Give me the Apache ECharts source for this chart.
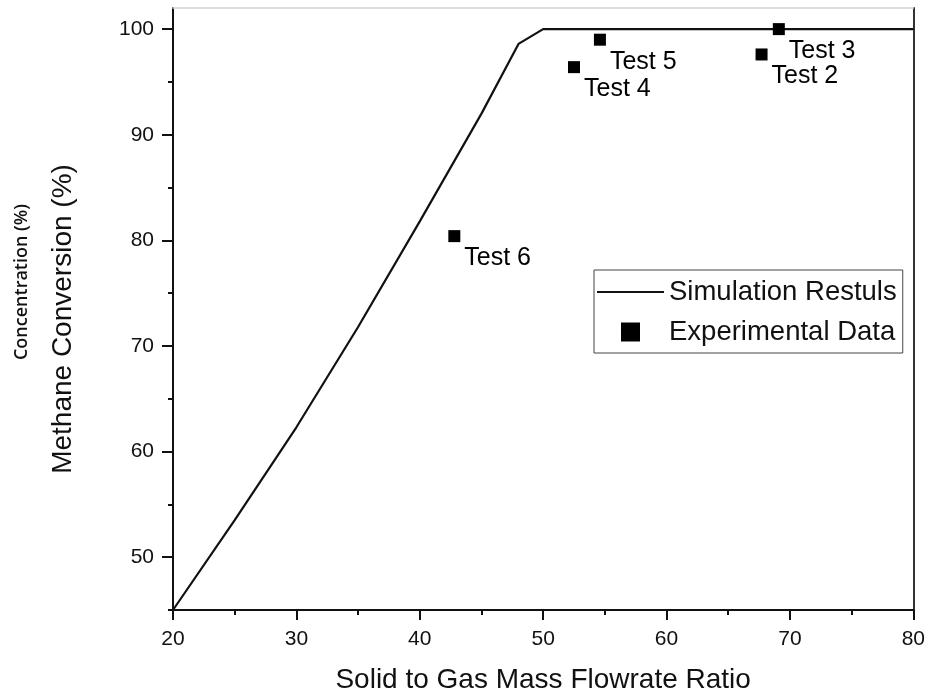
<!DOCTYPE html>
<html>
<head>
<meta charset="utf-8">
<script src="https://cdn.jsdelivr.net/npm/echarts@6/dist/echarts.min.js"></script>
<style>
  html, body { margin: 0; padding: 0; background: #fff; }
  #chart { width: 928px; height: 699px; }
</style>
</head>
<body>
<div id="chart"></div>
<script>
// Simulated methane conversion vs. solid-to-gas mass flowrate ratio
const simX = [20, 25, 30, 35, 40, 45, 48, 50, 80];
const simY = [45, 53.5, 62.3, 71.8, 81.8, 92.0, 98.6, 100, 100];

// Experimental runs
const testNames = ['Test 2', 'Test 3', 'Test 4', 'Test 5', 'Test 6'];
const testX = [67.7, 69.1, 52.5, 54.6, 42.8];
const testY = [97.6, 100.0, 96.4, 99.0, 80.4];

// Axis ticks
const xTicks = [20, 30, 40, 50, 60, 70, 80];
const yTicks = [50, 60, 70, 80, 90, 100];
const yMinorTicks = [45, 55, 65, 75, 85, 95];

const FONT = "'Liberation Sans', Arial, Helvetica, sans-serif";
const INK = '#111';

const chart = echarts.init(document.getElementById('chart'), null, { renderer: 'canvas' });

const xMin = xTicks[0], xMax = xTicks[xTicks.length - 1];
const yMin = 45, yMax = 102;

const hidden = { show: false };

chart.setOption({
  animation: false,
  backgroundColor: '#fff',
  grid: { left: 173, right: 12, top: 8, bottom: 86, containLabel: false },
  xAxis: [
    {
      type: 'value', position: 'bottom', min: xMin, max: xMax, interval: xTicks[1] - xTicks[0],
      axisLine: { show: true, onZero: false, lineStyle: { color: INK, width: 2 } },
      axisTick: { show: true, inside: false, length: 10, lineStyle: { color: INK, width: 2 } },
      minorTick: { show: true, splitNumber: 2, length: 5, lineStyle: { color: INK, width: 2 } },
      splitLine: hidden, minorSplitLine: hidden,
      axisLabel: { show: true, margin: 19, fontSize: 21, color: INK, fontFamily: FONT },
      name: 'Solid to Gas Mass Flowrate Ratio', nameLocation: 'middle', nameGap: 56,
      nameTextStyle: { fontSize: 28, color: INK, fontFamily: FONT }
    },
    {
      type: 'value', position: 'top', min: xMin, max: xMax,
      axisLine: { show: true, onZero: false, lineStyle: { color: '#d2d2d2', width: 1.5 } },
      axisTick: hidden, axisLabel: hidden, splitLine: hidden
    }
  ],
  yAxis: [
    {
      type: 'value', position: 'left', min: yMin, max: yMax,
      axisLine: { show: true, onZero: false, lineStyle: { color: INK, width: 2 } },
      axisTick: { show: true, inside: false, length: 11, customValues: yTicks, lineStyle: { color: INK, width: 2 } },
      axisLabel: { show: true, margin: 19, customValues: yTicks, fontSize: 21, color: INK, fontFamily: FONT },
      splitLine: hidden
    },
    {
      type: 'value', position: 'left', min: yMin, max: yMax,
      axisLine: { show: false },
      axisTick: { show: true, inside: false, length: 5, customValues: yMinorTicks, lineStyle: { color: INK, width: 2 } },
      axisLabel: hidden, splitLine: hidden
    },
    {
      type: 'value', position: 'right', min: yMin, max: yMax,
      axisLine: { show: true, onZero: false, lineStyle: { color: '#333', width: 2 } },
      axisTick: hidden, axisLabel: hidden, splitLine: hidden
    }
  ],
  legend: {
    orient: 'vertical', left: 594, top: 270,
    padding: [8, 6, 7, 3],
    itemWidth: 67, itemHeight: 19, itemGap: 12,
    symbolKeepAspect: true,
    borderColor: '#444', borderWidth: 1, backgroundColor: '#fff',
    textStyle: { fontSize: 27.5, color: INK, fontFamily: FONT },
    data: [
      { name: 'Simulation Restuls', icon: 'path://M0,0H67V2.2H0Z', itemStyle: { color: '#111' } },
      { name: 'Experimental Data', icon: 'path://M0,0H10V10H0Z', itemStyle: { color: '#000' } }
    ]
  },
  graphic: [
    {
      type: 'text', x: 63, y: 319, rotation: Math.PI / 2,
      style: {
        text: 'Methane Conversion (%)', fontSize: 28, fontFamily: FONT, fill: INK,
        textAlign: 'center', textVerticalAlign: 'middle', verticalAlign: 'middle'
      }
    },
    {
      type: 'text', x: 22, y: 282, rotation: Math.PI / 2,
      style: {
        text: 'Concentration (%)', fontSize: 18, fontWeight: 600,
        fontFamily: "'Open Sans', 'Noto Sans', sans-serif", fill: INK,
        textAlign: 'center', textVerticalAlign: 'middle', verticalAlign: 'middle'
      }
    }
  ],
  series: [
    {
      name: 'Simulation Restuls', type: 'line', xAxisIndex: 0, yAxisIndex: 0,
      data: simX.map((x, i) => [x, simY[i]]),
      symbol: 'none', smooth: false,
      lineStyle: { color: '#111', width: 2.2 },
      itemStyle: { color: '#111' },
      z: 2
    },
    {
      name: 'Experimental Data', type: 'scatter', xAxisIndex: 0, yAxisIndex: 0,
      data: testX.map((x, i) => ({ name: testNames[i], value: [x, testY[i]] })),
      symbol: 'rect', symbolSize: 12,
      itemStyle: { color: '#000', opacity: 1 },
      label: {
        show: true, formatter: '{b}', position: 'right', distance: 4, offset: [0, 22],
        fontSize: 25, color: '#000', fontFamily: FONT
      },
      z: 3
    }
  ]
});
</script>
</body>
</html>
